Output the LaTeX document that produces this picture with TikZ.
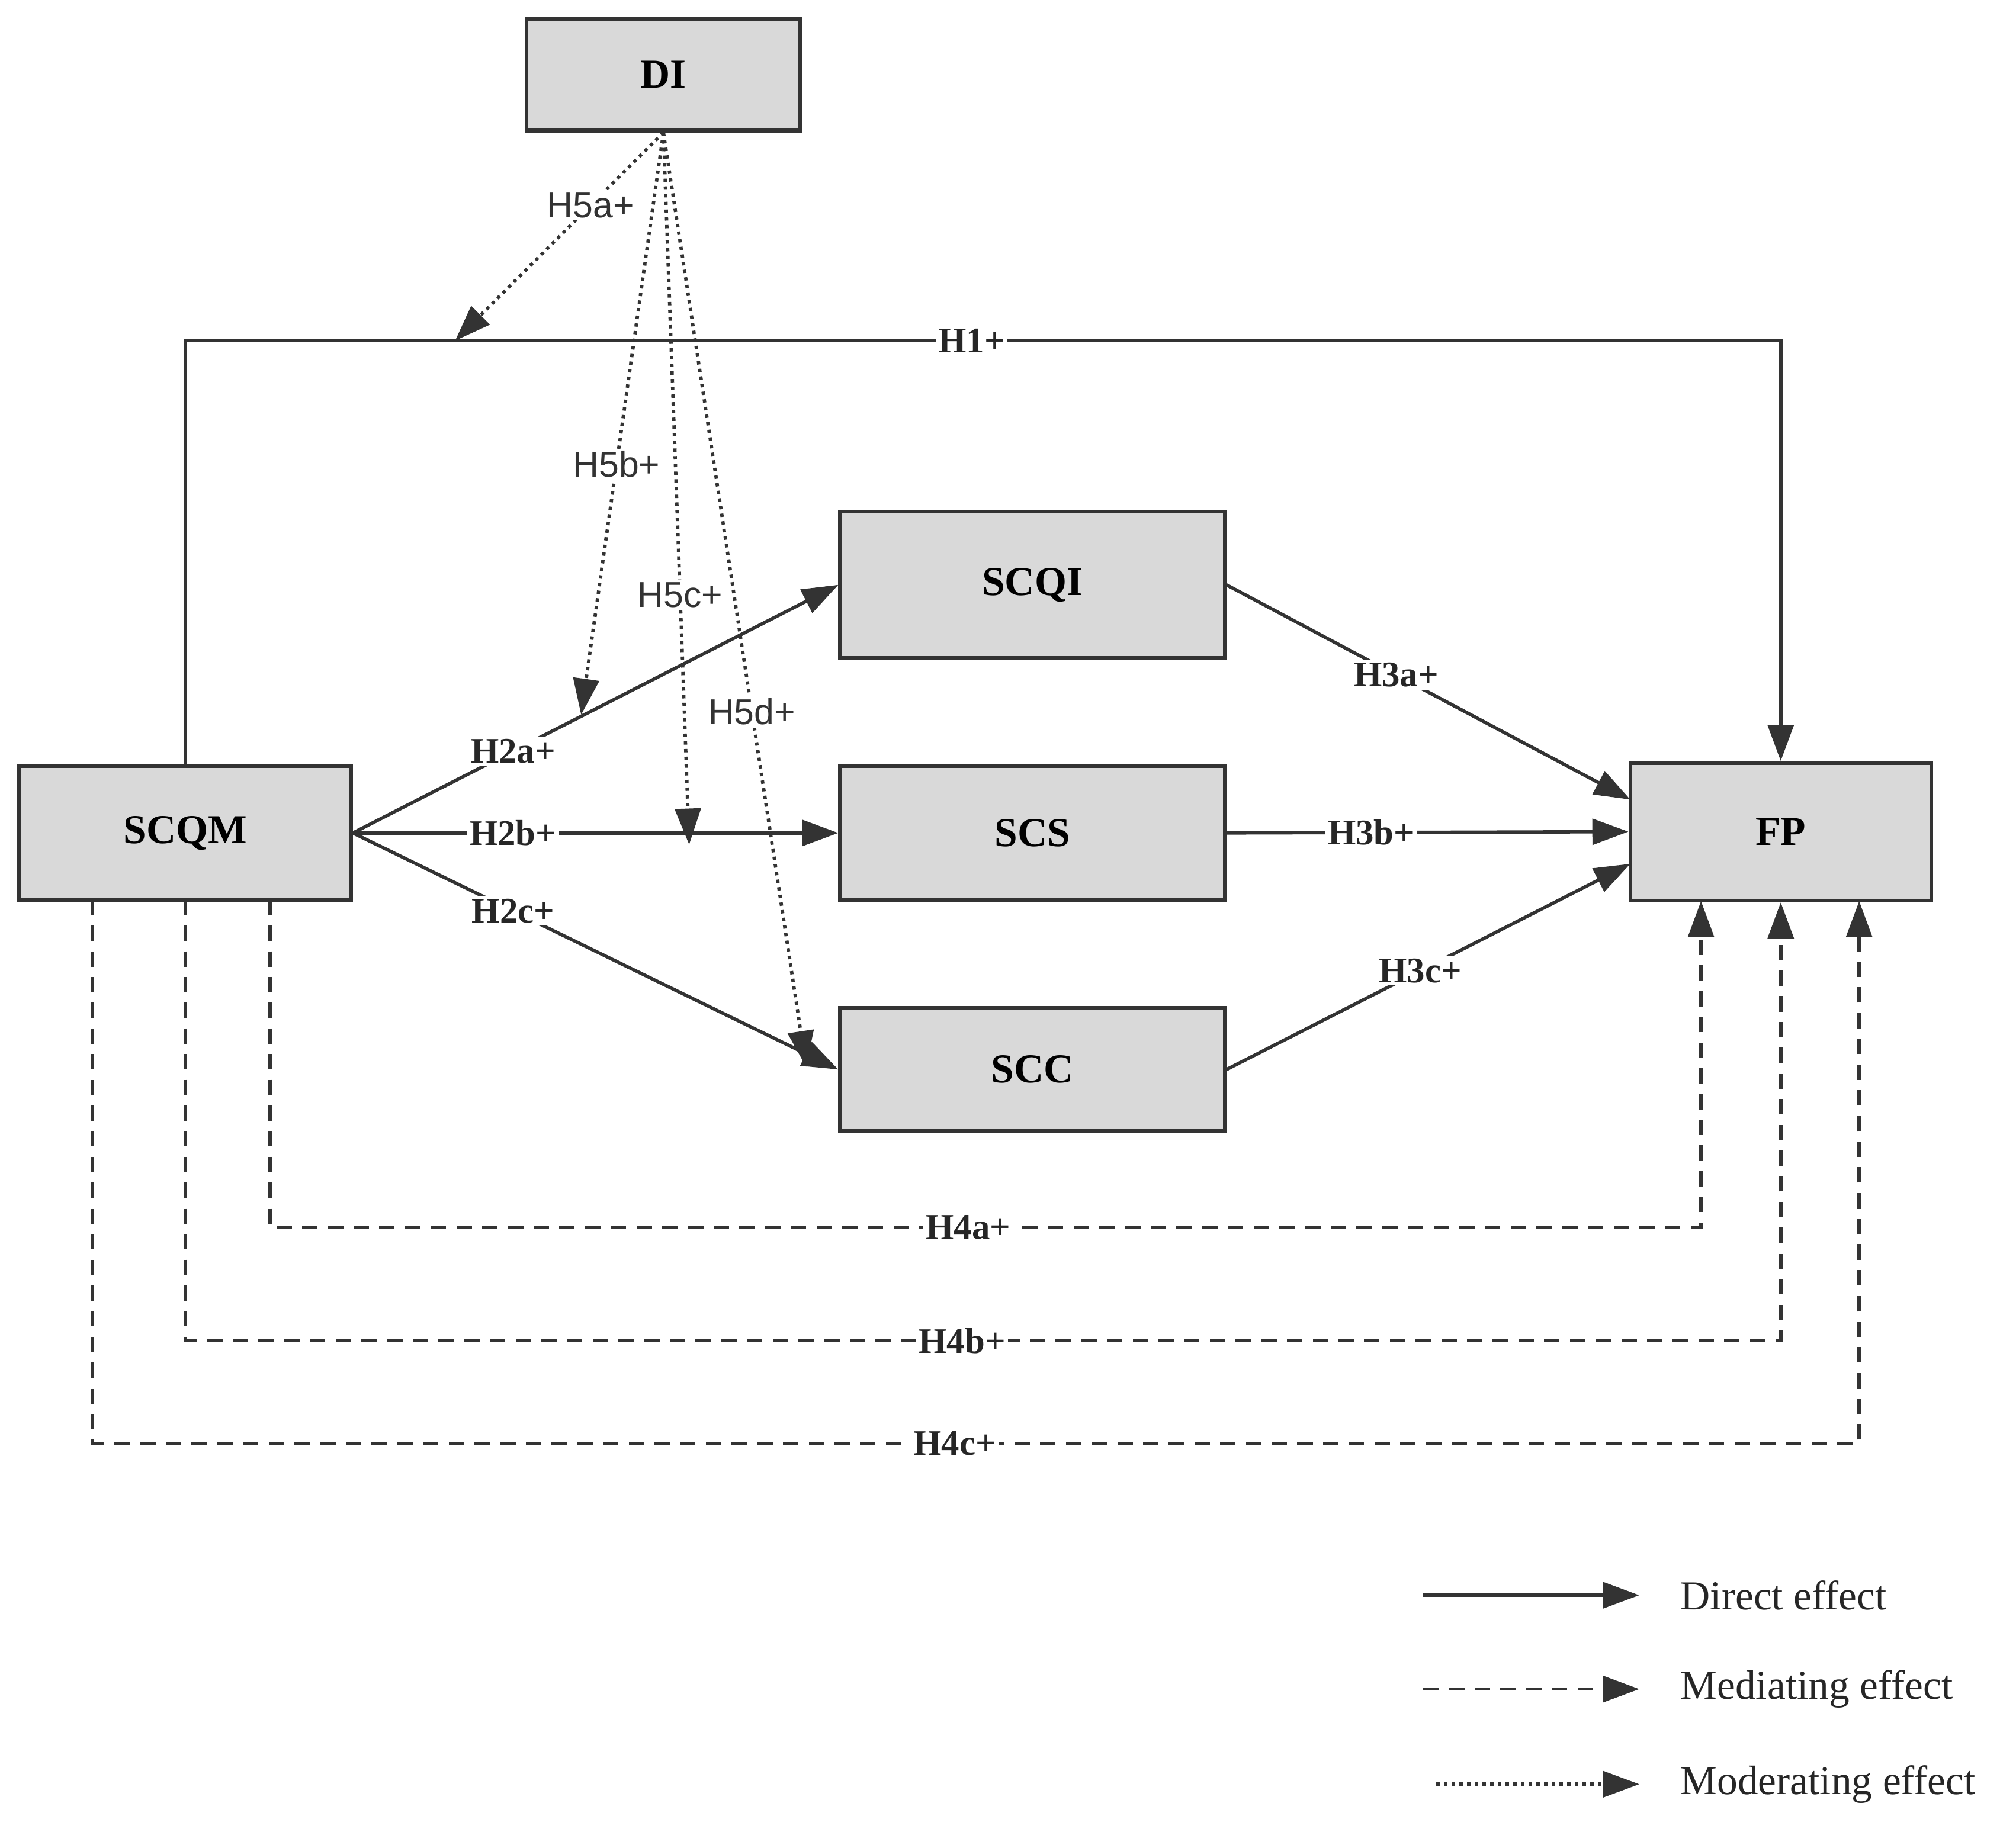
\documentclass[tikz,border=0pt]{standalone}
\usepackage{fontspec}
\setmainfont{Liberation Serif}
\newfontfamily\hsans{Liberation Sans}
\usetikzlibrary{arrows.meta}
\begin{document}
\begin{tikzpicture}[x=0.5pt,y=-0.5pt,
  box/.style={draw=black!80,fill=black!15,line width=1.5pt,font=\fontsize{16}{18}\selectfont\bfseries,inner sep=0pt},
  con/.style={draw=black!80,line width=1.3pt,-{Triangle[length=14pt,width=10pt]}},
  med/.style={con,dash pattern=on 6pt off 4pt},
  mod/.style={con,dash pattern=on 1.3pt off 1.7pt},
  lab/.style={fill=white,inner sep=1pt,font=\fontsize{14}{16}\selectfont\bfseries,text=black!85},
  slab/.style={fill=white,inner sep=1pt,font=\hsans\fontsize{14}{16}\selectfont,text=black!80},
  leg/.style={anchor=west,font=\fontsize{16}{18}\selectfont,text=black!85}]
\useasboundingbox (0,0) rectangle (1568,1425);
\node[box,minimum width=106.5pt,minimum height=43.5pt] (DI) at (516,58) {DI};
\node[box,minimum width=129pt,minimum height=52pt] (SCQM) at (144,648) {SCQM};
\node[box,minimum width=149.5pt,minimum height=57pt] (SCQI) at (803,455) {SCQI};
\node[box,minimum width=149.5pt,minimum height=52pt] (SCS) at (803,648) {SCS};
\node[box,minimum width=149.5pt,minimum height=48pt] (SCC) at (803,832) {SCC};
\node[box,minimum width=117pt,minimum height=53.5pt] (FP) at (1385,647) {FP};
% H1
\coordinate (h1a) at (144,265);
\coordinate (h1b) at (1385,265);
\draw[con] (SCQM.north) -- (h1a) -- node[lab,pos=0.493]{H1+} (h1b) -- (FP.north);
% H2
\draw[con] (SCQM.east) -- node[lab,pos=0.33]{H2a+} (SCQI.west);
\draw[con] (SCQM.east) -- node[lab,pos=0.33]{H2b+} (SCS.west);
\draw[con] (SCQM.east) -- node[lab,pos=0.33]{H2c+} (SCC.west);
% H3
\coordinate (fpa) at (1268,622);
\coordinate (fpc) at (1268,672);
\draw[con] (SCQI.east) -- node[lab,pos=0.42]{H3a+} (fpa);
\draw[con] (SCS.east) -- node[lab,pos=0.36]{H3b+} (FP.west);
\draw[con] (SCC.east) -- node[lab,pos=0.48]{H3c+} (fpc);
% H4
\coordinate (a1) at (210,700); \coordinate (a2) at (210,955); \coordinate (a3) at (1323,955); \coordinate (a4) at (1323,701);
\coordinate (b1) at (144,700); \coordinate (b2) at (144,1043); \coordinate (b3) at (1385,1043);
\coordinate (c1) at (72,700); \coordinate (c2) at (72,1123); \coordinate (c3) at (1446,1123); \coordinate (c4) at (1446,701);
\draw[med] (a1) -- (a2) -- node[lab,pos=0.488]{H4a+} (a3) -- (a4);
\draw[med] (b1) -- (b2) -- node[lab,pos=0.487]{H4b+} (b3) -- (FP.south);
\draw[med] (c1) -- (c2) -- node[lab,pos=0.488]{H4c+} (c3) -- (c4);
% H5
\coordinate (m1) at (354,265); \coordinate (m2) at (452,556);
\coordinate (m3) at (536,657); \coordinate (m4) at (627,830);
\draw[mod] (DI.south) -- node[slab,pos=0.35]{H5a+} (m1);
\draw[mod] (DI.south) -- node[slab,pos=0.57]{H5b+} (m2);
\draw[mod] (DI.south) -- node[slab,pos=0.65]{H5c+} (m3);
\draw[mod] (DI.south) -- node[slab,pos=0.62]{H5d+} (m4);
% legend
\coordinate (l1a) at (1107,1241); \coordinate (l1b) at (1275,1241);
\coordinate (l2a) at (1107,1314); \coordinate (l2b) at (1275,1314);
\coordinate (l3a) at (1117,1388); \coordinate (l3b) at (1275,1388);
\draw[con] (l1a) -- (l1b);
\draw[med] (l2a) -- (l2b);
\draw[mod] (l3a) -- (l3b);
\node[leg] (t1) at (1300,1241) {Direct effect};
\node[leg] (t2) at (1300,1314) {Mediating effect};
\node[leg] (t3) at (1300,1388) {Moderating effect};
\end{tikzpicture}
\end{document}
